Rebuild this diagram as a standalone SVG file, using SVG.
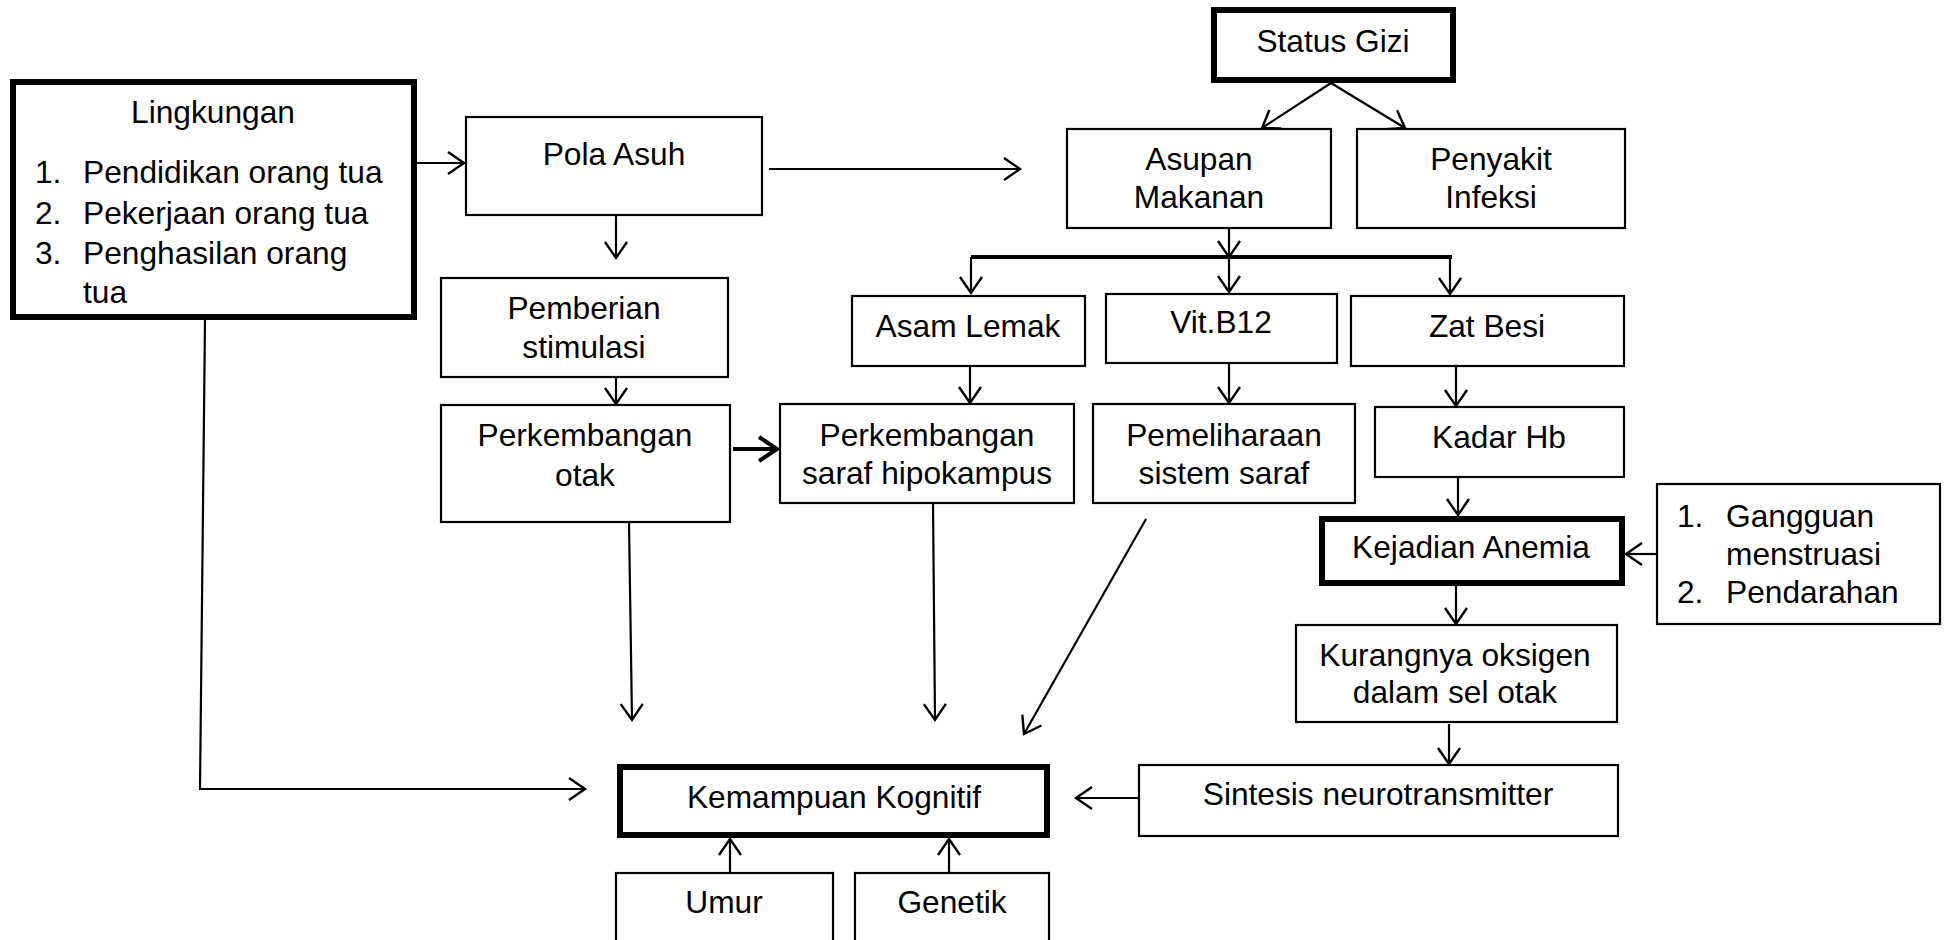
<svg xmlns="http://www.w3.org/2000/svg" width="1959" height="940" viewBox="0 0 1959 940">
<defs>
<style>
.box{fill:#fff;stroke:#000;stroke-width:2.2}
.thick{fill:#fff;stroke:#000;stroke-width:6}
.t{font-family:"Liberation Sans",Arial,sans-serif;font-size:31.7px;fill:#000;text-anchor:middle}
.l{font-family:"Liberation Sans",Arial,sans-serif;font-size:31.7px;fill:#000}
.c{fill:none;stroke:#000;stroke-width:2.2}
.cb{fill:none;stroke:#000;stroke-width:4}
.a{marker-end:url(#ah)}
.ab{marker-end:url(#ahb)}
</style>
<marker id="ah" markerUnits="userSpaceOnUse" viewBox="-20 -20 40 40" markerWidth="40" markerHeight="40" refX="0" refY="0" orient="auto" overflow="visible">
<path d="M-16,-11 L0,0 L-16,11" fill="none" stroke="#000" stroke-width="2.4"/>
</marker>
<marker id="ahb" markerUnits="userSpaceOnUse" viewBox="-20 -20 40 40" markerWidth="40" markerHeight="40" refX="0" refY="0" orient="auto" overflow="visible">
<path d="M-18,-12 L0,0 L-18,12" fill="none" stroke="#000" stroke-width="4"/>
</marker>
</defs>
<rect width="1959" height="940" fill="#fff"/>

<g id="connectors">
<line class="c a" x1="417" y1="163" x2="464" y2="163"/>
<line class="c a" x1="769" y1="169" x2="1020" y2="169"/>
<line class="c a" x1="616" y1="216" x2="616" y2="258"/>
<line class="c a" x1="616" y1="377" x2="616" y2="404"/>
<line class="cb ab" x1="733" y1="449" x2="777" y2="449"/>
<line class="c a" x1="1331" y1="83" x2="1262" y2="128"/>
<line class="c a" x1="1331" y1="83" x2="1405" y2="128"/>
<line class="c a" x1="1229" y1="228" x2="1229" y2="257"/>
<line class="cb" x1="971" y1="257" x2="1452" y2="257"/>
<line class="c a" x1="971" y1="257" x2="971" y2="293"/>
<line class="c a" x1="1229" y1="257" x2="1229" y2="292"/>
<line class="c a" x1="1450" y1="257" x2="1450" y2="294"/>
<line class="c a" x1="970" y1="366" x2="970" y2="403"/>
<line class="c a" x1="1229" y1="363" x2="1229" y2="403"/>
<line class="c a" x1="1456" y1="366" x2="1456" y2="406"/>
<line class="c a" x1="1458" y1="477" x2="1458" y2="515"/>
<line class="c a" x1="1657" y1="554" x2="1626" y2="554"/>
<line class="c a" x1="1456" y1="586" x2="1456" y2="624"/>
<line class="c a" x1="1449" y1="724" x2="1449" y2="764"/>
<line class="c a" x1="1139" y1="798" x2="1076" y2="798"/>
<line class="c a" x1="730" y1="873" x2="730" y2="839"/>
<line class="c a" x1="949" y1="873" x2="949" y2="839"/>
<polyline class="c a" points="205,320 200,789 585,789"/>
<line class="c a" x1="629" y1="522" x2="632" y2="720"/>
<line class="c a" x1="933" y1="503" x2="935" y2="720"/>
<line class="c a" x1="1146" y1="519" x2="1024" y2="734"/>
</g>

<g id="status-gizi">
<rect class="thick" x="1214" y="10" width="239" height="70"/>
<text class="t" x="1333" y="52">Status Gizi</text>
</g>
<g id="lingkungan">
<rect class="thick" x="13" y="82" width="401" height="235"/>
<text class="t" x="213" y="123">Lingkungan</text>
<text class="l" x="35" y="183">1.</text><text class="l" x="83" y="183">Pendidikan orang tua</text>
<text class="l" x="35" y="224">2.</text><text class="l" x="83" y="224">Pekerjaan orang tua</text>
<text class="l" x="35" y="264">3.</text><text class="l" x="83" y="264">Penghasilan orang</text>
<text class="l" x="83" y="303">tua</text>
</g>
<g id="pola-asuh">
<rect class="box" x="466" y="117" width="296" height="98"/>
<text class="t" x="614" y="165">Pola Asuh</text>
</g>
<g id="asupan-makanan">
<rect class="box" x="1067" y="129" width="264" height="99"/>
<text class="t" x="1199" y="170">Asupan</text>
<text class="t" x="1199" y="208">Makanan</text>
</g>
<g id="penyakit-infeksi">
<rect class="box" x="1357" y="129" width="268" height="99"/>
<text class="t" x="1491" y="170">Penyakit</text>
<text class="t" x="1491" y="208">Infeksi</text>
</g>
<g id="asam-lemak">
<rect class="box" x="852" y="296" width="233" height="70"/>
<text class="t" x="968" y="337">Asam Lemak</text>
</g>
<g id="vit-b12">
<rect class="box" x="1106" y="294" width="231" height="69"/>
<text class="t" x="1221" y="333">Vit.B12</text>
</g>
<g id="zat-besi">
<rect class="box" x="1351" y="296" width="273" height="70"/>
<text class="t" x="1487" y="337">Zat Besi</text>
</g>
<g id="pemberian-stimulasi">
<rect class="box" x="441" y="278" width="287" height="99"/>
<text class="t" x="584" y="319">Pemberian</text>
<text class="t" x="584" y="358">stimulasi</text>
</g>
<g id="perkembangan-otak">
<rect class="box" x="441" y="405" width="289" height="117"/>
<text class="t" x="585" y="446">Perkembangan</text>
<text class="t" x="585" y="486">otak</text>
</g>
<g id="perkembangan-saraf">
<rect class="box" x="780" y="404" width="294" height="99"/>
<text class="t" x="927" y="446">Perkembangan</text>
<text class="t" x="927" y="484">saraf hipokampus</text>
</g>
<g id="pemeliharaan">
<rect class="box" x="1093" y="404" width="262" height="99"/>
<text class="t" x="1224" y="446">Pemeliharaan</text>
<text class="t" x="1224" y="484">sistem saraf</text>
</g>
<g id="kadar-hb">
<rect class="box" x="1375" y="407" width="249" height="70"/>
<text class="t" x="1499" y="448">Kadar Hb</text>
</g>
<g id="kejadian-anemia">
<rect class="thick" x="1322" y="519" width="300" height="64"/>
<text class="t" x="1471" y="558">Kejadian Anemia</text>
</g>
<g id="faktor-anemia">
<rect class="box" x="1657" y="484" width="283" height="140"/>
<text class="l" x="1677" y="527">1.</text><text class="l" x="1726" y="527">Gangguan</text>
<text class="l" x="1726" y="565">menstruasi</text>
<text class="l" x="1677" y="603">2.</text><text class="l" x="1726" y="603">Pendarahan</text>
</g>
<g id="kurangnya-oksigen">
<rect class="box" x="1296" y="625" width="321" height="97"/>
<text class="t" x="1455" y="666">Kurangnya oksigen</text>
<text class="t" x="1455" y="703">dalam sel otak</text>
</g>
<g id="sintesis">
<rect class="box" x="1139" y="765" width="479" height="71"/>
<text class="t" x="1378" y="805">Sintesis neurotransmitter</text>
</g>
<g id="kemampuan-kognitif">
<rect class="thick" x="620" y="767" width="427" height="68"/>
<text class="t" x="834" y="808">Kemampuan Kognitif</text>
</g>
<g id="umur">
<rect class="box" x="616" y="873" width="217" height="80"/>
<text class="t" x="724" y="913">Umur</text>
</g>
<g id="genetik">
<rect class="box" x="855" y="873" width="194" height="80"/>
<text class="t" x="952" y="913">Genetik</text>
</g>
</svg>
